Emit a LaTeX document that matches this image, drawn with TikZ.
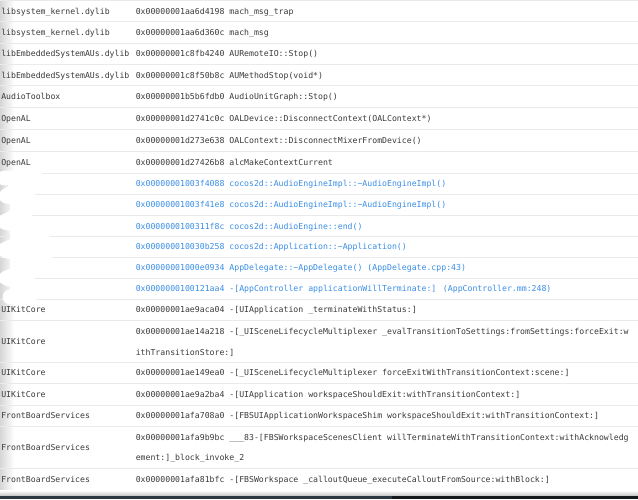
\documentclass[tikz,border=0pt]{standalone}
\usepackage{fontspec}
\newfontfamily\monof{DejaVu Sans Mono}
\definecolor{txtgray}{HTML}{3A3A3A}
\definecolor{txtblue}{HTML}{3A8EE6}
\definecolor{sepgray}{HTML}{EAEAEA}
\definecolor{barleft}{HTML}{2C3744}
\definecolor{barright}{HTML}{15181C}
\tikzset{
  cell/.style={anchor=base west, inner sep=0pt, font=\monof\fontsize{6.14pt}{7pt}\selectfont, text=txtgray},
  bluecell/.style={cell, text=txtblue},
  sepline/.style={draw=sepgray, line width=0.75pt},
}
\begin{document}
\begin{tikzpicture}[x=0.75pt,y=-0.75pt]
\useasboundingbox (0,0) rectangle (638,499);
\fill[white] (0,0) rectangle (638,499);
% left edge shadow
\shade[left color=black!16, right color=white] (0,0) rectangle (14,492);
% row separators
\foreach \s in {0.7,21.7,43.3,64.3,86,108,130,151.5,173,194.3,215.5,236.5,257.3,278.3,299.3,320,362,383.5,405,426.7,468,490}
  \draw[sepline] (0,\s) -- (638,\s);
% bottom shadow and bar
\shade[top color=white, bottom color=black!25] (0,490.5) rectangle (638,496);
\fill[barleft] (0,496) rectangle (392,499);
\fill[barright] (392,496) rectangle (638,499);
% white redaction scribble
\draw[white, line width=11pt, line cap=round, line join=round]
  (4,178) -- (36,177) -- (6,196) -- (40,203) -- (4,222) -- (44,232) -- (4,250) -- (46,262) -- (6,278) -- (48,290) -- (10,297);
\fill[white] (10,176) rectangle (30,298);
% column 1
\node[cell] (l1) at (1,14.2) {libsystem\_kernel.dylib};
\node[cell] (l2) at (1,35.5) {libsystem\_kernel.dylib};
\node[cell] (l3) at (1,56.8) {libEmbeddedSystemAUs.dylib};
\node[cell] (l4) at (1,78.2) {libEmbeddedSystemAUs.dylib};
\node[cell] (l5) at (1,100) {AudioToolbox};
\node[cell] (l6) at (1,122) {OpenAL};
\node[cell] (l7) at (1,143.8) {OpenAL};
\node[cell] (l8) at (1,165.3) {OpenAL};
\node[cell] (l15) at (1,312.7) {UIKitCore};
\node[cell] (l16) at (1,344) {UIKitCore};
\node[cell] (l17) at (1,375.7) {UIKitCore};
\node[cell] (l18) at (1,397.2) {UIKitCore};
\node[cell] (l19) at (1,418.8) {FrontBoardServices};
\node[cell] (l20) at (1,450) {FrontBoardServices};
\node[cell] (l21) at (1,482) {FrontBoardServices};
% column 2
\node[cell] (f1) at (135.5,14.2) {0x00000001aa6d4198 mach\_msg\_trap};
\node[cell] (f2) at (135.5,35.5) {0x00000001aa6d360c mach\_msg};
\node[cell] (f3) at (135.5,56.8) {0x00000001c8fb4240 AURemoteIO::Stop()};
\node[cell] (f4) at (135.5,78.2) {0x00000001c8f50b8c AUMethodStop(void*)};
\node[cell] (f5) at (135.5,100) {0x00000001b5b6fdb0 AudioUnitGraph::Stop()};
\node[cell] (f6) at (135.5,122) {0x00000001d2741c0c OALDevice::DisconnectContext(OALContext*)};
\node[cell] (f7) at (135.5,143.8) {0x00000001d273e638 OALContext::DisconnectMixerFromDevice()};
\node[cell] (f8) at (135.5,165.3) {0x00000001d27426b8 alcMakeContextCurrent};
\node[bluecell] (f9) at (135.5,186.7) {0x00000001003f4088 cocos2d::AudioEngineImpl::\textasciitilde AudioEngineImpl()};
\node[bluecell] (f10) at (135.5,207.9) {0x00000001003f41e8 cocos2d::AudioEngineImpl::\textasciitilde AudioEngineImpl()};
\node[bluecell] (f11) at (135.5,229) {0x0000000100311f8c cocos2d::AudioEngine::end()};
\node[bluecell] (f12) at (135.5,249.9) {0x000000010030b258 cocos2d::Application::\textasciitilde Application()};
\node[bluecell] (f13) at (135.5,270.8) {0x00000001000e0934 AppDelegate::\textasciitilde AppDelegate() (AppDelegate.cpp:43)};
\node[bluecell] (f14) at (135.5,291.8) {0x0000000100121aa4 -[AppController applicationWillTerminate:] (AppController.mm:248)};
\node[cell] (f15) at (135.5,312.7) {0x00000001ae9aca04 -[UIApplication \_terminateWithStatus:]};
\node[cell] (f16a) at (135.5,334) {0x00000001ae14a218 -[\_UISceneLifecycleMultiplexer \_evalTransitionToSettings:fromSettings:forceExit:w};
\node[cell] (f16b) at (135.5,355.7) {ithTransitionStore:]};
\node[cell] (f17) at (135.5,375.7) {0x00000001ae149ea0 -[\_UISceneLifecycleMultiplexer forceExitWithTransitionContext:scene:]};
\node[cell] (f18) at (135.5,397.2) {0x00000001ae9a2ba4 -[UIApplication workspaceShouldExit:withTransitionContext:]};
\node[cell] (f19) at (135.5,418.8) {0x00000001afa708a0 -[FBSUIApplicationWorkspaceShim workspaceShouldExit:withTransitionContext:]};
\node[cell] (f20a) at (135.5,440) {0x00000001afa9b9bc \_\_\_83-[FBSWorkspaceScenesClient willTerminateWithTransitionContext:withAcknowledg};
\node[cell] (f20b) at (135.5,460.7) {ement:]\_block\_invoke\_2};
\node[cell] (f21) at (135.5,482) {0x00000001afa81bfc -[FBSWorkspace \_calloutQueue\_executeCalloutFromSource:withBlock:]};
\end{tikzpicture}
\end{document}
